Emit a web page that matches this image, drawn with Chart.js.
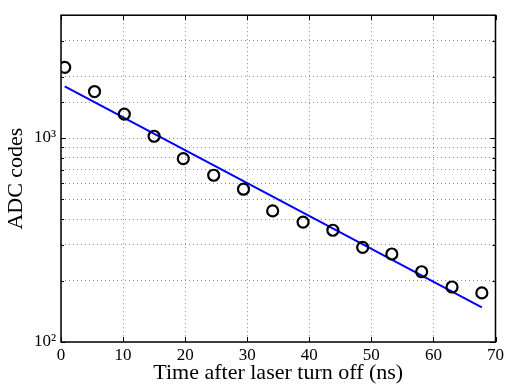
<!DOCTYPE html>
<html>
<head>
<meta charset="utf-8">
<script src="https://cdn.jsdelivr.net/npm/chart.js@4.4.1/dist/chart.umd.min.js"></script>
<style>
  html, body { margin: 0; padding: 0; background: #fff; }
  #wrap { width: 507px; height: 386px; }
</style>
</head>
<body>
<div id="wrap"><canvas id="decay-chart"></canvas></div>
<script>
// measured points
const timeNs = [0.6, 5.4, 10.2, 15.0, 19.7, 24.6, 29.4, 34.1, 39.0, 43.8, 48.6, 53.3, 58.1, 63.0, 67.8];
const adcCodes = [2220, 1690, 1310, 1020, 792, 657, 561, 439, 387, 353, 291, 270, 221, 186, 174];

// exponential fit, drawn between its end points
const fitTime = [0.6, 67.8];
const fitCodes = [1790, 148];

const xTicks = [0, 10, 20, 30, 40, 50, 60, 70];
const yLabels = { 100: '10²', 1000: '10³' };

const serif = 'Liberation Serif, Times New Roman, serif';

// MATLAB style box with inward tick marks
const boxPlugin = {
    id: 'box',
    afterDraw(chart) {
        const { ctx, chartArea: a, scales } = chart;
        ctx.save();
        ctx.strokeStyle = '#000';
        ctx.lineWidth = 1;
        scales.x.ticks.forEach(t => {
            const px = Math.round(scales.x.getPixelForValue(t.value)) + 0.5;
            ctx.beginPath();
            ctx.moveTo(px, a.bottom); ctx.lineTo(px, a.bottom - 5);
            ctx.moveTo(px, a.top); ctx.lineTo(px, a.top + 5);
            ctx.stroke();
        });
        scales.y.ticks.forEach(t => {
            const py = Math.round(scales.y.getPixelForValue(t.value)) + 0.5;
            const len = yLabels[t.value] ? 5 : 3;
            ctx.beginPath();
            ctx.moveTo(a.left, py); ctx.lineTo(a.left + len, py);
            ctx.moveTo(a.right, py); ctx.lineTo(a.right - len, py);
            ctx.stroke();
        });
        ctx.lineWidth = 1.5;
        ctx.strokeRect(a.left, a.top, a.right - a.left, a.bottom - a.top);
        ctx.restore();
    }
};

const gridStyle = {
    color: 'rgba(0,0,0,0.45)',
    lineWidth: 1,
    drawTicks: false
};

const ctx = document.getElementById('decay-chart').getContext('2d');
const decayChart = new Chart(ctx, {
    type: 'scatter',
    data: {
        datasets: [
            {
                label: 'data',
                data: timeNs.map((t, i) => ({ x: t, y: adcCodes[i] })),
                pointStyle: 'circle',
                pointRadius: 5.5,
                pointBorderWidth: 2.2,
                pointBorderColor: '#000',
                pointBackgroundColor: 'rgba(0,0,0,0)',
                showLine: false,
                order: 0
            },
            {
                label: 'fit',
                data: fitTime.map((t, i) => ({ x: t, y: fitCodes[i] })),
                showLine: true,
                borderColor: '#0000ff',
                borderWidth: 2,
                pointRadius: 0,
                order: 1
            }
        ]
    },
    options: {
        responsive: true,
        maintainAspectRatio: false,
        animation: false,
        layout: { padding: { top: 10, right: 9, left: 0, bottom: 0 } },
        plugins: {
            legend: { display: false },
            tooltip: { enabled: false }
        },
        scales: {
            x: {
                type: 'linear',
                min: 0,
                max: 70,
                afterBuildTicks: scale => { scale.ticks = xTicks.map(v => ({ value: v })); },
                afterFit: scale => { scale.height = 44; },
                grid: { ...gridStyle },
                border: { display: false, dash: [1, 3] },
                ticks: {
                    color: '#000',
                    padding: 3,
                    font: { family: serif, size: 17 }
                },
                title: {
                    display: true,
                    text: 'Time after laser turn off (ns)',
                    color: '#000',
                    padding: { top: 0, bottom: 0 },
                    font: { family: serif, size: 22 }
                }
            },
            y: {
                type: 'logarithmic',
                min: 100,
                max: 4000,
                afterFit: scale => { scale.width = 61; },
                grid: { ...gridStyle },
                border: { display: false, dash: [1, 3] },
                ticks: {
                    color: '#000',
                    padding: 5,
                    autoSkip: false,
                    font: { family: serif, size: 17 },
                    callback: v => yLabels[v] || ''
                },
                title: {
                    display: true,
                    text: 'ADC codes',
                    color: '#000',
                    padding: { top: 3, bottom: 0 },
                    font: { family: serif, size: 22 }
                }
            }
        }
    },
    plugins: [boxPlugin]
});
</script>
</body>
</html>
